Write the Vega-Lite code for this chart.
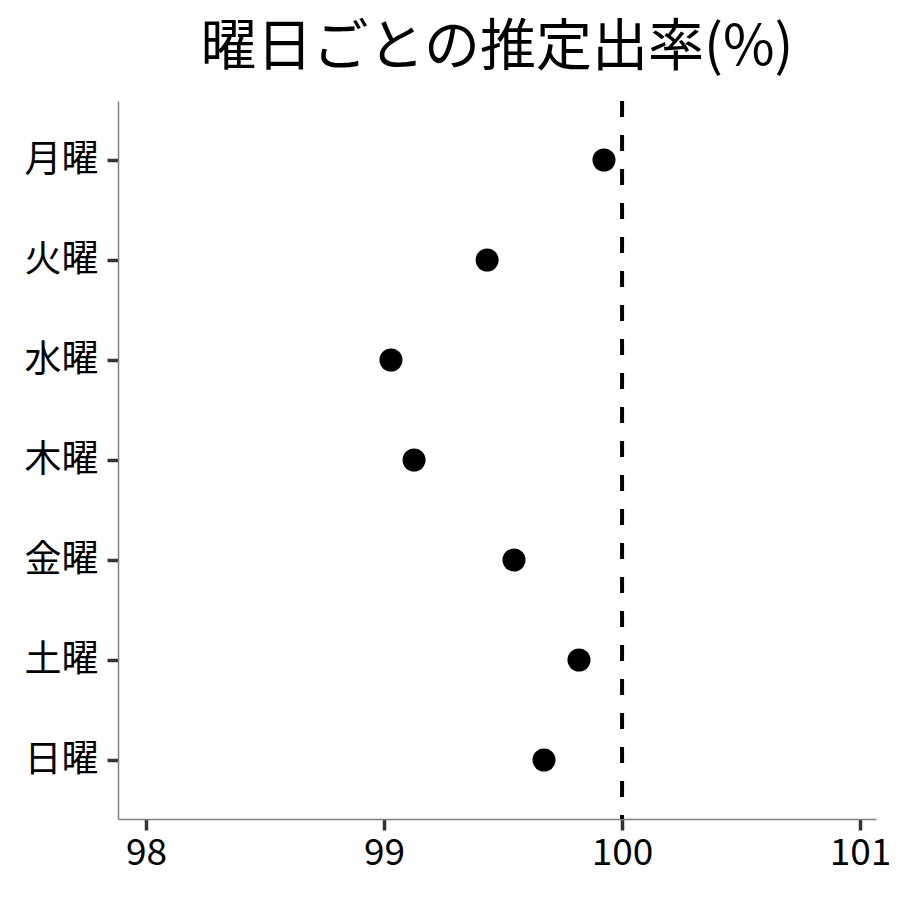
{
  "$schema": "https://vega.github.io/schema/vega-lite/v6.json",
  "autosize": {"type": "none"},
  "width": 758,
  "height": 718,
  "padding": {"left": 118, "top": 101, "right": 24, "bottom": 81},
  "background": "white",
  "config": {
    "font": "Noto Sans CJK JP",
    "view": {"stroke": null},
    "axis": {"grid": false}
  },
  "title": {
    "text": "曜日ごとの推定出率(%)",
    "fontSize": 56,
    "fontWeight": "normal",
    "color": "black",
    "anchor": "middle",
    "offset": 22,
    "font": "Noto Sans CJK JP"
  },
  "datasets": {
    "points": [
      {"day": "月曜", "rate": 99.924},
      {"day": "火曜", "rate": 99.433},
      {"day": "水曜", "rate": 99.029},
      {"day": "木曜", "rate": 99.126},
      {"day": "金曜", "rate": 99.546},
      {"day": "土曜", "rate": 99.819},
      {"day": "日曜", "rate": 99.672}
    ],
    "ref": [{"value": 100}]
  },
  "layer": [
    {
      "data": {"name": "ref"},
      "mark": {"type": "rule", "color": "black", "strokeWidth": 4, "strokeDash": [16, 18]},
      "encoding": {
        "x": {"field": "value", "type": "quantitative", "scale": {"domain": [97.882, 101.067], "nice": false, "zero": false}}
      }
    },
    {
      "data": {"name": "points"},
      "mark": {"type": "circle", "color": "black", "opacity": 1, "size": 530},
      "encoding": {
        "x": {
          "field": "rate",
          "type": "quantitative",
          "title": null,
          "scale": {"domain": [97.882, 101.067], "nice": false, "zero": false},
          "axis": {
            "values": [98, 99, 100, 101],
            "format": "d",
            "domainColor": "#808080",
            "domainWidth": 1.5,
            "tickColor": "#333333",
            "tickWidth": 3.5,
            "tickSize": 11,
            "labelFontSize": 37,
            "labelColor": "black",
            "labelPadding": 5,
            "labelFont": "Noto Sans CJK JP"
          }
        },
        "y": {
          "field": "day",
          "type": "nominal",
          "title": null,
          "sort": ["月曜", "火曜", "水曜", "木曜", "金曜", "土曜", "日曜"],
          "scale": {"type": "point", "padding": 0.59},
          "axis": {
            "domainColor": "#808080",
            "domainWidth": 1.5,
            "tickColor": "#333333",
            "tickWidth": 3.5,
            "tickSize": 11,
            "labelFontSize": 37,
            "labelColor": "black",
            "labelPadding": 9,
            "labelFont": "Noto Sans CJK JP"
          }
        }
      }
    }
  ]
}
